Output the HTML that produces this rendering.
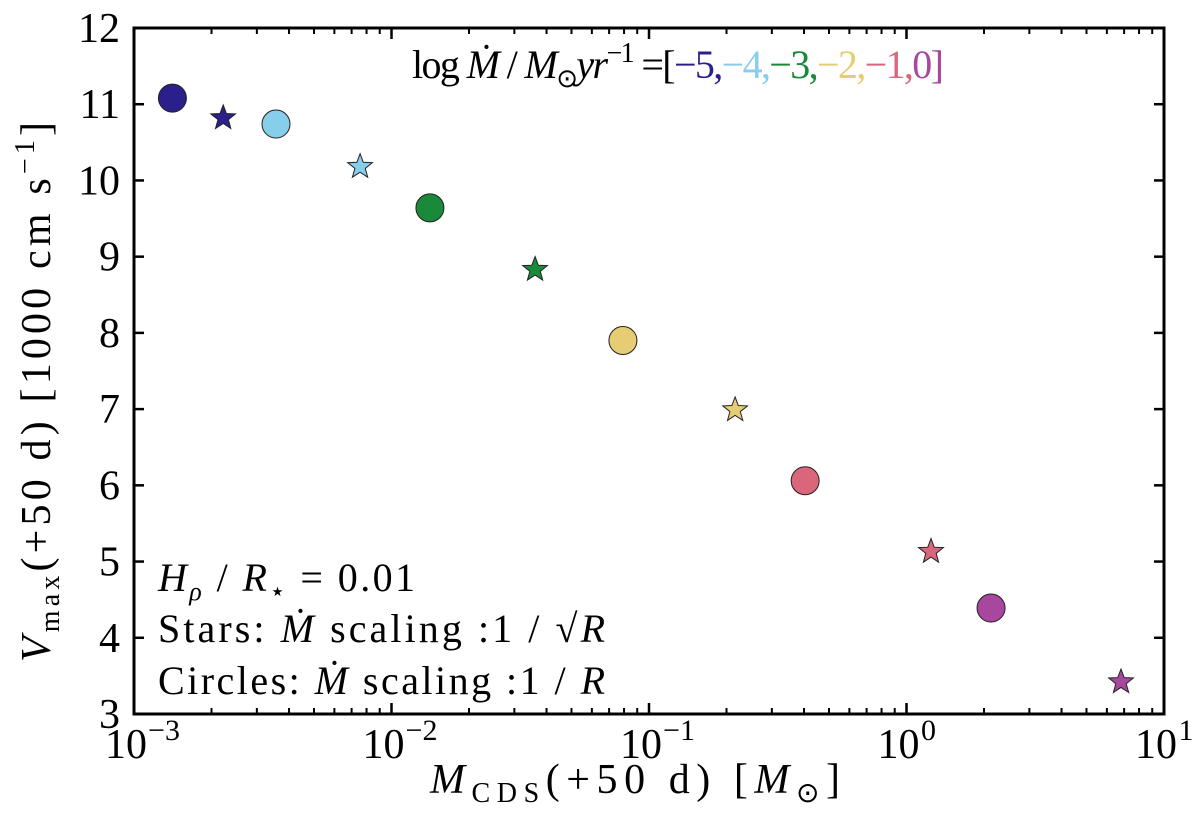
<!DOCTYPE html>
<html><head><meta charset="utf-8"><style>
body{margin:0;background:#fff}
svg{display:block;font-family:"Liberation Serif",serif}
</style></head><body>
<svg id="chart" width="1200" height="820" viewBox="0 0 1200 820" xmlns="http://www.w3.org/2000/svg">
<g id="marks"></g>
<g id="axes"></g>
<text x="412" y="78" font-size="40" textLength="532" lengthAdjust="spacing"><tspan>log </tspan><tspan font-style="italic">Ṁ</tspan><tspan> / </tspan><tspan font-style="italic">M</tspan><tspan font-size="26" dy="9">⊙</tspan><tspan font-style="italic" dy="-9">yr</tspan><tspan font-size="28" dy="-16">−1</tspan><tspan dy="16"> =[</tspan><tspan fill="#2b1f8c">−5,</tspan><tspan fill="#87ceeb">−4,</tspan><tspan fill="#1a8a3a">−3,</tspan><tspan fill="#e6cc73">−2,</tspan><tspan fill="#d9667a">−1,</tspan><tspan fill="#a8479e">0]</tspan></text>
<text x="158" y="591" font-size="40" textLength="257" lengthAdjust="spacing"><tspan font-style="italic">H</tspan><tspan font-style="italic" font-size="26" dy="9">ρ</tspan><tspan dy="-9"> / </tspan><tspan font-style="italic">R</tspan><tspan font-size="26" dy="9">⋆</tspan><tspan dy="-9"> = 0.01</tspan></text>
<text x="158" y="642" font-size="40" textLength="447" lengthAdjust="spacing">Stars: <tspan font-style="italic">Ṁ</tspan> scaling :1 / √<tspan font-style="italic">R</tspan></text>
<text x="158" y="694" font-size="40" textLength="447" lengthAdjust="spacing">Circles: <tspan font-style="italic">Ṁ</tspan> scaling :1 / <tspan font-style="italic">R</tspan></text>
<text x="430" y="793" font-size="42" textLength="410" lengthAdjust="spacing"><tspan font-style="italic">M</tspan><tspan font-size="28" dy="9">CDS</tspan><tspan dy="-9">(+50 d) [</tspan><tspan font-style="italic">M</tspan><tspan font-size="28" dy="9">⊙</tspan><tspan dy="-9">]</tspan></text>
<text transform="translate(50,662) rotate(-90)" font-size="42" textLength="540" lengthAdjust="spacing"><tspan font-style="italic">V</tspan><tspan font-size="28" dy="9">max</tspan><tspan dy="-9">(+50 d) [1000 cm s</tspan><tspan font-size="28" dy="-16">−1</tspan><tspan dy="16">]</tspan></text>
</svg>
<script>
const mdotLabels = ["-5","-4","-3","-2","-1","0"];
const colors = ["#2b1f8c","#87ceeb","#1a8a3a","#e6cc73","#d9667a","#a8479e"];
const circleMass = [0.00141,0.00356,0.0141,0.0792,0.404,2.13];
const circleVmax = [11.08,10.74,9.64,7.90,6.06,4.39];
const starMass = [0.00222,0.00755,0.0361,0.216,1.245,6.81];
const starVmax = [10.82,10.18,8.83,6.99,5.13,3.42];
const yTicks = [3,4,5,6,7,8,9,10,11,12];
const xTickExps = [-3,-2,-1,0,1];

const NS="http://www.w3.org/2000/svg";
const L=134,R=1164,T=28,B=714;
const xs=v=>L+(Math.log10(v)+3)/4*(R-L);
const ys=v=>B-(v-3)/9*(B-T);
const marks=document.getElementById('marks'), axes=document.getElementById('axes');
function mk(tag,attrs,parent){const e=document.createElementNS(NS,tag);for(const k in attrs)e.setAttribute(k,attrs[k]);parent.appendChild(e);return e;}
function starPts(cx,cy,ro){const ri=ro*0.42;let p=[];for(let i=0;i<10;i++){const r=i%2?ri:ro;const a=-Math.PI/2+i*Math.PI/5;p.push((cx+r*Math.cos(a)).toFixed(1)+','+(cy+r*Math.sin(a)).toFixed(1));}return p.join(' ');}
for(let i=0;i<circleMass.length;i++){
  const c=mk('circle',{cx:xs(circleMass[i]),cy:ys(circleVmax[i]),r:14,fill:colors[i],stroke:'#222','stroke-width':1},marks);
  
  
}
for(let i=0;i<starMass.length;i++){
  const s=mk('polygon',{points:starPts(xs(starMass[i]),ys(starVmax[i]),13),fill:colors[i],stroke:'#222','stroke-width':1},marks);
  
  
}
const frame=mk('rect',{x:L,y:T,width:R-L,height:B-T,fill:'none',stroke:'#000','stroke-width':3},axes);


yTicks.forEach(v=>{
  const y=ys(v);
  mk('line',{x1:L,x2:L+10,y1:y,y2:y,stroke:'#000','stroke-width':2.5},axes);
  mk('line',{x1:R-10,x2:R,y1:y,y2:y,stroke:'#000','stroke-width':2.5},axes);
  const t=mk('text',{x:L-14,y:y+14,'font-size':42,'text-anchor':'end'},axes);
  t.textContent=v;
  
  
});
xTickExps.forEach((e,i)=>{
  const x=xs(Math.pow(10,e));
  mk('line',{x1:x,x2:x,y1:B,y2:B-11,stroke:'#000','stroke-width':2.5},axes);
  mk('line',{x1:x,x2:x,y1:T,y2:T+11,stroke:'#000','stroke-width':2.5},axes);
  const t=mk('text',{x:x-8,y:758,'font-size':42,'text-anchor':'middle'},axes);
  t.textContent='10';
  const s=mk('tspan',{'font-size':30,dy:-18,x:x+(e<0?30:22)},t);
  s.textContent=e<0?'−'+(-e):String(e);
  
  
  if(i<xTickExps.length-1){for(let m=2;m<10;m++){const xm=xs(m*Math.pow(10,e));
    mk('line',{x1:xm,x2:xm,y1:B,y2:B-6,stroke:'#000','stroke-width':2},axes);
    mk('line',{x1:xm,x2:xm,y1:T,y2:T+6,stroke:'#000','stroke-width':2},axes);}}
});
</script>
</body></html>
